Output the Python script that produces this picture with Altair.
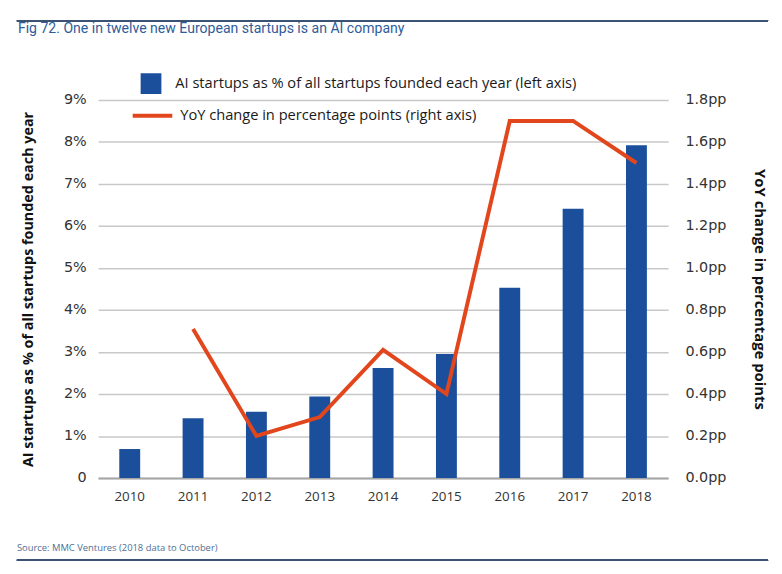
import altair as alt
import pandas as pd

years = ["2010", "2011", "2012", "2013", "2014", "2015", "2016", "2017", "2018"]
ai_share = [0.69, 1.42, 1.58, 1.94, 2.62, 2.95, 4.53, 6.41, 7.92]
yoy_pp = [None, 0.71, 0.20, 0.29, 0.61, 0.40, 1.70, 1.70, 1.50]

bar_label = "AI startups as % of all startups founded each year (left axis)"
line_label = "YoY change in percentage points (right axis)"
title_text = "Fig 72. One in twelve new European startups is an AI company"
source_text = "Source: MMC Ventures (2018 data to October)"
left_title = "AI startups as % of all startups founded each year"
right_title = "YoY change in percentage points"

df = pd.DataFrame({"year": years, "share": ai_share, "yoy": yoy_pp})
df["bar_series"] = bar_label
df["line_series"] = line_label

W, H = 576, 382
FONT = "Open Sans"
TICKFONT = "DejaVu Sans"
BLUE = "#1B4F9C"
ORANGE = "#E2461C"

base = alt.Chart(df)

x_enc = alt.X(
    "year:N",
    title=None,
    scale=alt.Scale(paddingInner=0.67, paddingOuter=0.335),
    axis=alt.Axis(
        labelAngle=0, labelFont=FONT, labelFontSize=13.5, labelColor="#333333",
        labelPadding=12, ticks=False, domainColor="#a6a6a6", domainWidth=2,
        grid=False,
    ),
)

bars = base.mark_bar().encode(
    x=x_enc,
    y=alt.Y(
        "share:Q",
        scale=alt.Scale(domain=[0, 9], nice=False),
        axis=alt.Axis(
            values=list(range(10)),
            labelExpr="datum.value == 0 ? '0' : datum.value + '%'",
            title=left_title, titleFont=FONT, titleFontSize=14.5, titleFontWeight="bold",
            titleColor="#111111", titlePadding=28,
            labelFont=TICKFONT, labelFontSize=14.5, labelColor="#333333", labelPadding=12,
            ticks=False, domain=False, grid=True, gridColor="#c8c8c8", gridWidth=1.5,
        ),
    ),
    color=alt.Color(
        "bar_series:N",
        scale=alt.Scale(range=[BLUE]),
        legend=alt.Legend(
            title=None, orient="none", legendX=43, legendY=-27,
            symbolType="square", symbolSize=440, symbolStrokeWidth=0,
            labelFont=FONT, labelFontSize=14.8, labelColor="#1a1a1a",
            labelOffset=14, labelLimit=600, padding=0,
        ),
    ),
)

line = base.transform_filter("isValid(datum.yoy)").mark_line(strokeWidth=4).encode(
    x=alt.X("year:N"),
    y=alt.Y(
        "yoy:Q",
        scale=alt.Scale(domain=[0, 1.8], nice=False),
        axis=alt.Axis(
            orient="right",
            values=[0, 0.2, 0.4, 0.6, 0.8, 1.0, 1.2, 1.4, 1.6, 1.8],
            labelExpr="format(datum.value, '.1f') + 'pp'",
            title=right_title, titleFont=FONT, titleFontSize=15, titleFontWeight="bold",
            titleColor="#111111", titlePadding=26,
            labelFont=TICKFONT, labelFontSize=14.5, labelColor="#333333", labelPadding=17,
            ticks=False, domain=False, grid=False,
        ),
    ),
    stroke=alt.Stroke(
        "line_series:N",
        scale=alt.Scale(range=[ORANGE]),
        legend=alt.Legend(
            title=None, orient="none", legendX=33, legendY=-6,
            symbolType="stroke", symbolSize=1600, symbolStrokeWidth=4,
            labelFont=FONT, labelFontSize=14.8, labelColor="#1a1a1a",
            labelOffset=6, labelLimit=600, padding=0,
        ),
    ),
)

top_rule = alt.Chart(df).mark_rule(color="#3B5275", strokeWidth=1.5).encode(
    x=alt.value(-82), x2=alt.value(W + 101), y=alt.value(-80)
)
bottom_rule = alt.Chart(df).mark_rule(color="#3B5275", strokeWidth=1.5).encode(
    x=alt.value(-82), x2=alt.value(W + 101), y=alt.value(H + 83)
)
title = alt.Chart(pd.DataFrame({"t": [title_text]})).mark_text(
    align="left", baseline="middle", font="Roboto", fontSize=14.2, color="#2F5C9A"
).encode(text="t:N", x=alt.value(-81), y=alt.value(-72))
source = alt.Chart(pd.DataFrame({"t": [source_text]})).mark_text(
    align="left", baseline="middle", font=FONT, fontSize=9.5, color="#4F6F96"
).encode(text="t:N", x=alt.value(-82), y=alt.value(H + 71))

chart = alt.layer(bars, line, top_rule, bottom_rule, title, source).resolve_scale(
    y="independent", color="independent", stroke="independent"
).properties(
    width=W, height=H,
    padding={"left": 8, "top": 9, "right": 5, "bottom": 5},
).configure_view(stroke=None)

chart.save("out.html", embed_options={"renderer": "svg", "actions": False})
